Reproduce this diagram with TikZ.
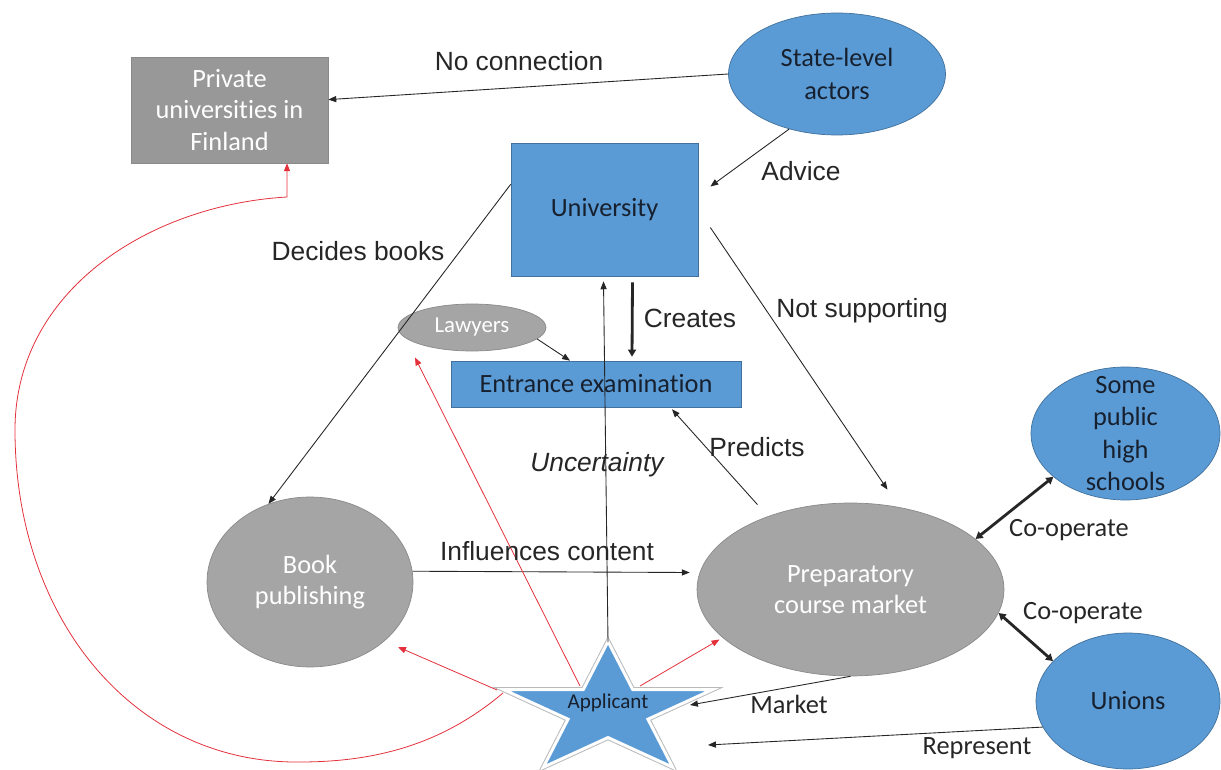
\documentclass[tikz,border=0pt]{standalone}
\usepackage{fontspec}
\setmainfont{Carlito}[Ligatures=NoCommon]
\newfontfamily\arialfont{Liberation Sans}
\usetikzlibrary{shapes.geometric, calc, arrows.meta}

\definecolor{boxblue}{HTML}{5B9BD5}
\definecolor{edgeblue}{HTML}{41719C}
\definecolor{boxgray}{HTML}{A5A5A5}
\definecolor{edgegray}{HTML}{8A8A8A}
\definecolor{linkred}{HTML}{E3303B}
\definecolor{inktext}{HTML}{262626}
\definecolor{navytext}{HTML}{17202E}

\tikzset{
  bluebox/.style={rectangle, fill=boxblue, draw=edgeblue, line width=0.4pt, text=navytext, align=center, inner sep=0pt, font=\fontsize{15}{18}\selectfont},
  graybox/.style={rectangle, fill=boxgray!92!black, draw=edgegray, line width=0.4pt, text=white, align=center, inner sep=0pt, font=\fontsize{15}{18}\selectfont},
  blueoval/.style={ellipse, fill=boxblue, draw=edgeblue, line width=0.4pt, text=navytext, align=center, inner sep=0pt, font=\fontsize{15}{18.5}\selectfont},
  grayoval/.style={ellipse, fill=boxgray, draw=edgegray, line width=0.4pt, text=white, align=center, inner sep=0pt, font=\fontsize{15}{18}\selectfont},
  ovaltext/.style={text=navytext, align=center, inner sep=0pt, font=\fontsize{15}{18.5}\selectfont},
  link/.style={draw=inktext, line width=0.5pt, -{Triangle[length=4.5pt,width=3.5pt]}},
  boldlink/.style={draw=inktext, line width=1.6pt, -{Triangle[length=4pt,width=4.5pt]}},
  boldboth/.style={draw=inktext, line width=1.6pt, {Triangle[length=4pt,width=4.5pt]}-{Triangle[length=4pt,width=4.5pt]}},
  redlink/.style={draw=linkred, line width=0.45pt, -{Triangle[length=4.5pt,width=3.5pt]}},
  arial/.style={font=\arialfont\fontsize{15}{18}\selectfont, text=inktext, inner sep=0pt},
  calib/.style={font=\fontsize{15}{18}\selectfont, text=inktext, inner sep=0pt}
}

\begin{document}
\begin{tikzpicture}[x=0.02cm, y=-0.02cm]
        \useasboundingbox (0,0) rectangle (1221,770);
        \fill[white] (0,0) rectangle (1221,770);

        % Boxes and ovals
        \node[graybox, minimum width=3.94cm, minimum height=2.12cm] (priv) at (229.5,110) {Private\\universities in\\Finland};
        \node[blueoval, minimum width=4.34cm, minimum height=2.44cm] (state) at (837,74) {State-level\\actors};
        \node[bluebox, minimum width=3.74cm, minimum height=2.66cm] (uni) at (604.5,209.5) {University};
        \node[bluebox, minimum width=5.8cm, minimum height=0.92cm] (exam) at (596,384) {Entrance examination};
        \node[grayoval, minimum width=2.96cm, minimum height=0.94cm, font=\fontsize{13}{15}\selectfont] (law) at (472,327.5) {Lawyers};
        \node[grayoval, minimum width=4.12cm, minimum height=3.4cm] (book) at (310,582) {Book\\publishing};
        \node[grayoval, minimum width=6.14cm, minimum height=3.46cm] (prep) at (850.5,589.5) {Preparatory\\course market};
        \node[blueoval, minimum width=3.78cm, minimum height=2.66cm, label={[ovaltext]center:{Some\\public\\high\\schools}}] (school) at (1125.5,433.5) {};
        \node[blueoval, minimum width=3.68cm, minimum height=2.72cm] (unions) at (1128,701) {Unions};

        % Applicant star
        \begin{scope}[shift={(608,711)}]
          \draw[preaction={draw=gray!55, line width=2.8pt}, draw=white, line width=1.7pt, fill=boxblue]
            plot[samples at={0,...,9}] ({110*(1-0.618*mod(\x,2))*cos(90+36*\x)}, {-69.5*(1-0.618*mod(\x,2))*sin(90+36*\x)}) -- cycle;
        \end{scope}
        \node[text=navytext, inner sep=0pt, font=\fontsize{12}{14}\selectfont] (app) at (608,703) {Applicant};

        % Black connectors
        \draw[link] (state.west) -- (priv.6);
        \draw[link] (state.229) -- ($(uni.east)+(12,-23)$);
        \draw[link] (uni.165) -- (book.118);
        \draw[link] ($(uni.east)+(12,18)$) -- ($(prep.north)+(37,-13)$);
        \draw[boldlink] ($(uni.south)+(28,6)$) -- ($(exam.north)+(36,-4)$);
        \draw[link] (law.-10) -- ($(exam.north)+(-26,0)$);
        \draw[link] ($(prep.north)+(-93,2)$) -- ($(exam.south)+(76,2)$);
        \draw[link] ($(app)+(0,-61)$) -- ($(uni.south)+(-1,5)$);
        \draw[link] (book.6) -- ($(prep.west)+(-7,-17)$);
        \draw[boldboth] (prep.22) -- (school.211);
        \draw[boldboth] (prep.-9) -- (unions.152);
        \draw[link] (prep.south) -- ($(app)+(82,2)$);
        \draw[link] (unions.197) -- ($(app)+(100,42)$);

        % Red connectors from the applicant
        \draw[redlink] ($(app)+(-111,-13)$) -- ($(book)+(88,65)$);
        \draw[redlink] ($(app)+(-28,-17)$) -- ($(law)+(-57,30)$);
        \draw[redlink] ($(app)+(32,-17)$) -- ($(prep)+(-131,50)$);
        \draw[redlink] ($(app)+(-105,-10)$) .. controls (445,742) and (380,762) .. (300,762)
          .. controls (135,764) and (15,620) .. (15,430)
          .. controls (15,290) and (150,205) .. (287,197) -- (287,0 |- priv.south);

        % Labels
        \node[arial] (lblnoconn) at (519,61) {No connection};
        \node[arial] (lbladvice) at (801,171) {Advice};
        \node[arial] (lbldecides) at (358,251) {Decides books};
        \node[arial] (lblnotsup) at (862,311) {Not supporting};
        \node[arial] (lblcreates) at (690,318) {Creates};
        \node[arial] (lblpredicts) at (757,447) {Predicts};
        \node[arial, font=\arialfont\itshape\fontsize{15}{18}\selectfont] (lbluncert) at (597,465) {Uncertainty};
        \node[arial] (lblinfl) at (547,551) {Influences content};
        \node[calib] (lblcoopa) at (1069,530) {Co-operate};
        \node[calib] (lblcoopb) at (1083,613) {Co-operate};
        \node[calib] (lblmarket) at (789,704) {Market};
        \node[calib] (lblrepr) at (977,748) {Represent};
\end{tikzpicture}
\end{document}
